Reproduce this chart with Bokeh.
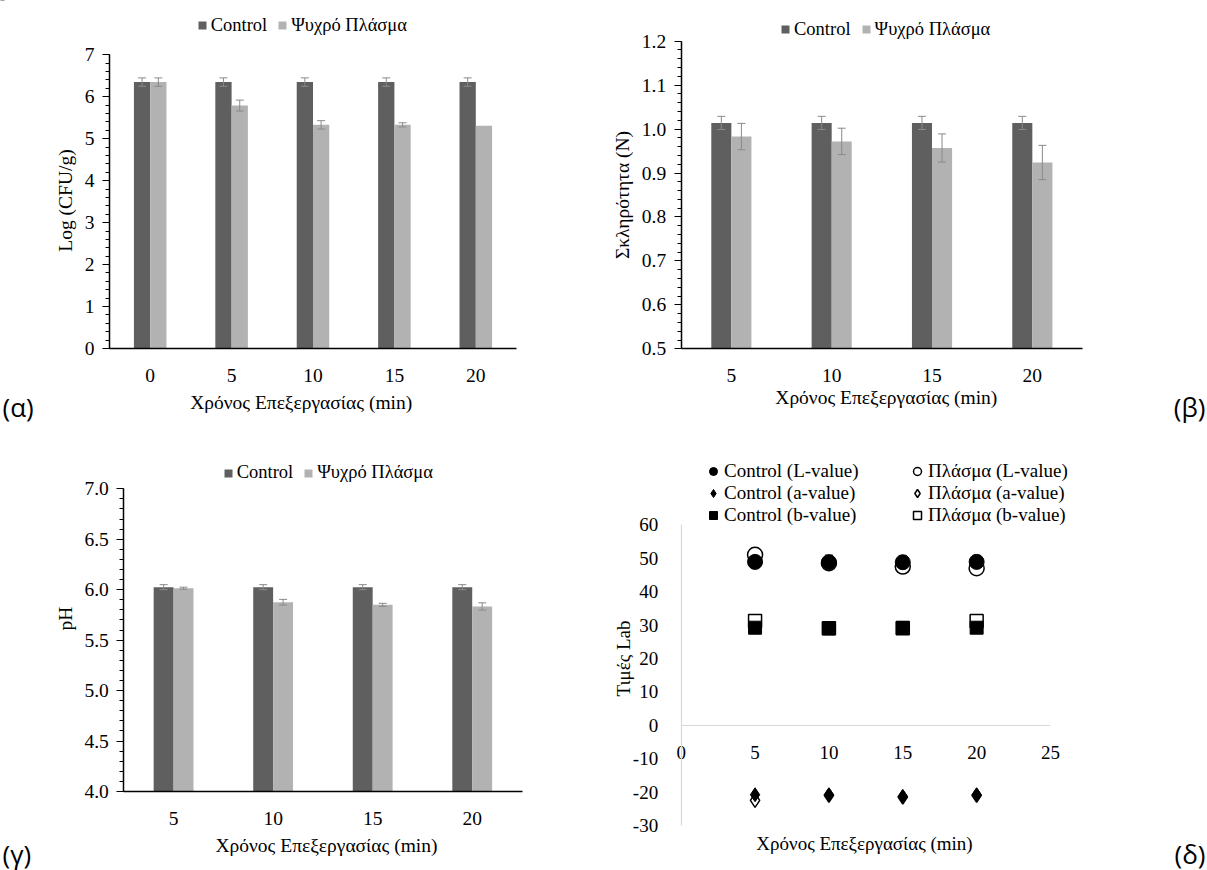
from bokeh.plotting import figure
from bokeh.models import (ColumnDataSource, Whisker, TeeHead, Legend, LegendItem, Range1d,
                          LinearAxis, FixedTicker, Label, NumeralTickFormatter)
from bokeh.transform import dodge
from bokeh.layouts import column, row
from bokeh.embed import file_html
from bokeh.resources import INLINE

# ---------------- data ----------------
# (α) microbial load
a_times = ["0", "5", "10", "15", "20"]
a_control = [6.35, 6.35, 6.35, 6.35, 6.35]
a_control_err = [0.10, 0.10, 0.10, 0.10, 0.10]
a_plasma = [6.35, 5.79, 5.33, 5.33, 5.31]
a_plasma_err = [0.10, 0.13, 0.10, 0.05, 0.0]
a_yticks = [0, 1, 2, 3, 4, 5, 6, 7]

# (β) firmness
b_times = ["5", "10", "15", "20"]
b_control = [1.014, 1.014, 1.014, 1.014]
b_control_err = [0.015, 0.015, 0.015, 0.015]
b_plasma = [0.983, 0.972, 0.957, 0.924]
b_plasma_err = [0.030, 0.030, 0.032, 0.039]
b_yticks = [0.5, 0.6, 0.7, 0.8, 0.9, 1.0, 1.1, 1.2]

# (γ) pH
g_times = ["5", "10", "15", "20"]
g_control = [6.025, 6.025, 6.025, 6.025]
g_control_err = [0.025, 0.025, 0.025, 0.025]
g_plasma = [6.015, 5.876, 5.850, 5.834]
g_plasma_err = [0.010, 0.028, 0.015, 0.036]
g_yticks = [4.0, 4.5, 5.0, 5.5, 6.0, 6.5, 7.0]

# (δ) Lab colour values
d_times = [5, 10, 15, 20]
d_control_L = [48.9, 48.8, 48.8, 48.9]
d_control_L_err = [2.0, 2.2, 2.0, 2.0]
d_plasma_L = [51.0, 48.5, 47.5, 47.0]
d_plasma_L_err = [2.0, 1.5, 1.5, 1.5]
d_control_a = [-20.8, -20.8, -21.3, -20.8]
d_plasma_a = [-22.5, -21.0, -21.5, -21.0]
d_control_b = [29.2, 29.0, 29.2, 29.2]
d_plasma_b = [31.2, 29.0, 29.0, 31.2]
d_xticks = [0, 5, 10, 15, 20, 25]
d_yticks = [-30, -20, -10, 0, 10, 20, 30, 40, 50, 60]

x_title = "Χρόνος Επεξεργασίας (min)"
series_names = ["Control", "Ψυχρό Πλάσμα"]
d_names = ["Control (L-value)", "Control (a-value)", "Control (b-value)",
           "Πλάσμα (L-value)", "Πλάσμα (a-value)", "Πλάσμα (b-value)"]

SERIF = "Liberation Serif"
TAGFONT = "Open Sans"
DARK = "#5f5f5f"
LIGHT = "#b2b2b2"
ERR = "#8a8a8a"
FS = "19.5px"
NAN = float("nan")


def rng(p0, v0, p1, v1, size):
    """Range whose value v0 sits at pixel p0 and v1 at pixel p1 (pixels from low edge)."""
    k = (p1 - p0) / (v1 - v0)
    start = v0 - p0 / k
    return Range1d(start, start + size / k)


def bounds_of(vals, errs, sign):
    return [v + sign * e if e > 0 else NAN for v, e in zip(vals, errs)]


def base_fig(W, H, xr, yr):
    p = figure(width=W, height=H, x_range=xr, y_range=yr, output_backend="svg",
               toolbar_location=None, x_axis_location=None, y_axis_location=None,
               min_border=0, min_border_left=0, min_border_right=0,
               min_border_top=0, min_border_bottom=0)
    p.outline_line_color = None
    p.grid.visible = False
    return p


def text_label(p, x, y, text, font=SERIF, size=FS, angle=0, align="center"):
    p.add_layout(Label(x=x, y=y, x_units="screen", y_units="screen", text=text,
                       text_font=font, text_font_size=size, text_color="black",
                       angle=angle, angle_units="deg", text_align=align,
                       text_baseline="middle"))


def bar_panel(cats, ctrl, ctrl_err, plas, plas_err, yticks, fmt, ylabel, W, H,
              xmap, ymap, leg_xy, xt_xy, yt_xy, tag, tag_xy, tag_align):
    n = len(cats)
    idx = list(range(n))
    y0, y1 = yticks[0], yticks[-1]
    p = base_fig(W, H, rng(*xmap, W), rng(*ymap, H))
    src = ColumnDataSource(dict(
        x=idx, c=ctrl, pl=plas,
        c_up=bounds_of(ctrl, ctrl_err, 1), c_lo=bounds_of(ctrl, ctrl_err, -1),
        p_up=bounds_of(plas, plas_err, 1), p_lo=bounds_of(plas, plas_err, -1),
    ))
    rc = p.vbar(x=dodge('x', -0.1), top='c', bottom=y0, width=0.2,
                source=src, fill_color=DARK, line_color=None)
    rp = p.vbar(x=dodge('x', 0.1), top='pl', bottom=y0, width=0.2,
                source=src, fill_color=LIGHT, line_color=None)
    for off, up, lo in [(-0.1, 'c_up', 'c_lo'), (0.1, 'p_up', 'p_lo')]:
        p.add_layout(Whisker(source=src, base=dodge('x', off), upper=up, lower=lo,
                             line_color=ERR, line_width=1, level="overlay",
                             upper_head=TeeHead(size=8, line_color=ERR, line_width=1),
                             lower_head=TeeHead(size=8, line_color=ERR, line_width=1)))

    xa = LinearAxis(fixed_location=y0, bounds=(-0.5, n - 0.5), ticker=FixedTicker(ticks=idx),
                    major_label_overrides={i: c for i, c in zip(idx, cats)},
                    axis_line_color="black", axis_line_width=1.5,
                    major_tick_line_color=None, minor_tick_line_color=None,
                    major_label_standoff=14, major_label_text_font=SERIF,
                    major_label_text_font_size=FS, major_label_text_color="black")
    p.add_layout(xa, "below")

    step = yticks[1] - yticks[0]
    nminor = int(round((y1 - y0) / step * 5))
    minor = [y0 + k * step / 5 for k in range(nminor + 1)]
    ya = LinearAxis(fixed_location=-0.5, bounds=(y0, y1),
                    ticker=FixedTicker(ticks=yticks, minor_ticks=minor),
                    formatter=NumeralTickFormatter(format=fmt),
                    axis_line_color="black", axis_line_width=1.5,
                    major_tick_line_color="black", major_tick_line_width=1.2,
                    major_tick_in=0, major_tick_out=7,
                    minor_tick_line_color="black", minor_tick_line_width=1,
                    minor_tick_in=0, minor_tick_out=4,
                    major_label_standoff=8, major_label_text_font=SERIF,
                    major_label_text_font_size=FS, major_label_text_color="black")
    p.add_layout(ya, "left")

    leg = Legend(items=[LegendItem(label=series_names[0], renderers=[rc]),
                        LegendItem(label=series_names[1], renderers=[rp])],
                 location=leg_xy, orientation="horizontal",
                 glyph_width=10, glyph_height=10, label_standoff=4, spacing=10,
                 padding=0, margin=0, border_line_color=None, background_fill_alpha=0,
                 label_text_font=SERIF, label_text_font_size="18.5px", label_text_color="black")
    p.add_layout(leg)
    text_label(p, xt_xy[0], H - xt_xy[1], x_title)
    text_label(p, yt_xy[0], H - yt_xy[1], ylabel, angle=90)
    text_label(p, tag_xy[0], H - tag_xy[1], tag, font=TAGFONT, size="26px", align=tag_align)
    return p


# panel (α): canvas 600 x 428 at page (0, 0)
pa = bar_panel(a_times, a_control, a_control_err, a_plasma, a_plasma_err, a_yticks, "0",
               "Log (CFU/g)", 600, 428,
               (109, -0.5, 516, 4.5), (80, 0, 373.7, 7),
               (196.7, 392.5), (300.7, 401.7), (65, 200),
               "(α)", (2, 406), "left")
# panel (β): canvas 607 x 428 at page (600, 0)
pb = bar_panel(b_times, b_control, b_control_err, b_plasma, b_plasma_err, b_yticks, "0.0",
               "Σκληρότητα (N)", 607, 428,
               (80.7, -0.5, 482, 3.5), (79.7, 0.5, 387.3, 1.2),
               (180, 388.2), (285.8, 396.7), (21.7, 194.5),
               "(β)", (605, 406), "right")
# panel (γ): canvas 600 x 442 at page (0, 428)
pg = bar_panel(g_times, g_control, g_control_err, g_plasma, g_plasma_err, g_yticks, "0.0",
               "pH", 600, 442,
               (123.3, -0.5, 521.5, 3.5), (79, 4.0, 381.7, 7.0),
               (222.7, 386.8), (326, 417), (65, 190),
               "(γ)", (2, 425), "left")

# ---------------- (δ) scatter: canvas 607 x 442 at page (600, 428) ----------------
DW, DH = 607, 442
pd = base_fig(DW, DH, rng(80.7, 0, 450, 25, DW), rng(45, -30, 345.7, 60, DH))

dsrc = ColumnDataSource(dict(
    t=d_times, cL=d_control_L, pL=d_plasma_L, ca=d_control_a, pa=d_plasma_a,
    cb=d_control_b, pb=d_plasma_b,
    cL_up=bounds_of(d_control_L, d_control_L_err, 1),
    cL_lo=bounds_of(d_control_L, d_control_L_err, -1),
    pL_up=bounds_of(d_plasma_L, d_plasma_L_err, 1),
    pL_lo=bounds_of(d_plasma_L, d_plasma_L_err, -1),
))

for up, lo in [("pL_up", "pL_lo"), ("cL_up", "cL_lo")]:
    pd.add_layout(Whisker(source=dsrc, base="t", upper=up, lower=lo, line_color="#555555",
                          line_width=1, level="underlay",
                          upper_head=TeeHead(size=8, line_color="#555555", line_width=1),
                          lower_head=TeeHead(size=8, line_color="#555555", line_width=1)))

xax = LinearAxis(fixed_location=0, bounds=(0, 25), ticker=FixedTicker(ticks=d_xticks),
                 formatter=NumeralTickFormatter(format="0"),
                 axis_line_color="#d9d9d9", axis_line_width=1.2,
                 major_tick_line_color=None, minor_tick_line_color=None,
                 major_label_standoff=15, major_label_text_font=SERIF,
                 major_label_text_font_size="19px", major_label_text_color="black")
pd.add_layout(xax, "below")
yax = LinearAxis(fixed_location=0, bounds=(-30, 60), ticker=FixedTicker(ticks=d_yticks),
                 formatter=NumeralTickFormatter(format="0"),
                 axis_line_color="#d9d9d9", axis_line_width=1.2,
                 major_tick_line_color=None, minor_tick_line_color=None,
                 major_label_standoff=17, major_label_text_font=SERIF,
                 major_label_text_font_size="19px", major_label_text_color="black")
pd.add_layout(yax, "left")

r_pL = pd.scatter("t", "pL", source=dsrc, marker="circle", size=15, fill_color="white",
                  line_color="black", line_width=1.5)
r_pa = pd.scatter("t", "pa", source=dsrc, marker="diamond", size=14, fill_color="white",
                  line_color="black", line_width=1.5)
r_pb = pd.scatter("t", "pb", source=dsrc, marker="square", size=13, fill_color="white",
                  line_color="black", line_width=1.5)
r_cL = pd.scatter("t", "cL", source=dsrc, marker="circle", size=15, fill_color="black",
                  line_color="black")
r_ca = pd.scatter("t", "ca", source=dsrc, marker="diamond", size=14, fill_color="black",
                  line_color="black")
r_cb = pd.scatter("t", "cb", source=dsrc, marker="square", size=13, fill_color="black",
                  line_color="black")

dleg = Legend(items=[LegendItem(label=d_names[0], renderers=[r_cL]),
                     LegendItem(label=d_names[1], renderers=[r_ca]),
                     LegendItem(label=d_names[2], renderers=[r_cb]),
                     LegendItem(label=d_names[3], renderers=[r_pL]),
                     LegendItem(label=d_names[4], renderers=[r_pa]),
                     LegendItem(label=d_names[5], renderers=[r_pb])],
              location=(103, 344), orientation="vertical", nrows=3,
              glyph_width=20, glyph_height=20, label_standoff=1, spacing=0,
              label_width=183, label_height=22,
              padding=0, margin=0, border_line_color=None, background_fill_alpha=0,
              label_text_font=SERIF, label_text_font_size="19px", label_text_color="black")
pd.add_layout(dleg)
text_label(pd, 264, DH - 415, x_title, size="19px")
text_label(pd, 23, DH - 230, "Τιμές Lab", size="19px", angle=90)
text_label(pd, 605, DH - 425, "(δ)", font=TAGFONT, size="26px", align="right")

layout = column(row(pa, pb), row(pg, pd))
open("out.html", "w").write(file_html(layout, INLINE))
